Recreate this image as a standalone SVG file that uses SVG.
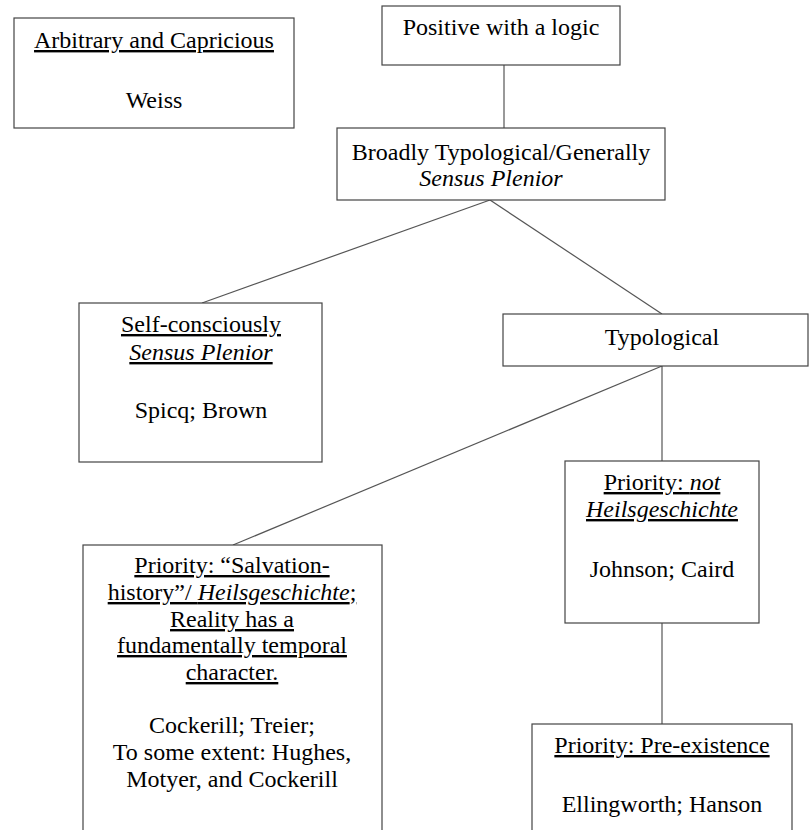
<svg xmlns="http://www.w3.org/2000/svg" width="809" height="830" viewBox="0 0 809 830" font-family="'Liberation Serif', 'Times New Roman', serif">
<style>
.box{fill:#fff;stroke:#444;stroke-width:1.2}
.ln{stroke:#555;stroke-width:1.2;fill:none}
.t{font-family:'Liberation Serif','Times New Roman',serif;font-size:24px;fill:#000;text-anchor:middle}
.u{text-decoration:underline}
.i{font-style:italic}
</style>
<rect width="809" height="830" fill="#fff"/>
<g id="connectors">
<line class="ln" x1="504" y1="65" x2="504" y2="128"/>
<line class="ln" x1="490" y1="200" x2="202" y2="303"/>
<line class="ln" x1="490" y1="200" x2="662" y2="314"/>
<line class="ln" x1="662" y1="366" x2="233" y2="545"/>
<line class="ln" x1="662" y1="366" x2="662" y2="461"/>
<line class="ln" x1="662" y1="623" x2="662" y2="724"/>
</g>
<g id="arbitrary">
<rect class="box" x="14" y="18" width="280" height="110"/>
<text x="154" y="48" class="t u">Arbitrary and Capricious</text>
<text x="154" y="108" class="t">Weiss</text>
</g>
<g id="positive">
<rect class="box" x="382" y="6" width="238" height="59"/>
<text x="501" y="35" class="t">Positive with a logic</text>
</g>
<g id="broadly">
<rect class="box" x="337" y="128" width="328" height="72"/>
<text x="501" y="160" class="t">Broadly Typological/Generally</text>
<text x="491" y="186" class="t i">Sensus Plenior</text>
</g>
<g id="selfconscious">
<rect class="box" x="79" y="303" width="243" height="159"/>
<text x="201" y="332" class="t u">Self-consciously</text>
<text x="201" y="360" class="t u i">Sensus Plenior</text>
<text x="201" y="418" class="t">Spicq; Brown</text>
</g>
<g id="typological">
<rect class="box" x="503" y="314" width="305" height="52"/>
<text x="662" y="345" class="t">Typological</text>
</g>
<g id="salvation">
<rect class="box" x="83" y="545" width="299" height="300"/>
<text x="232" y="573" class="t u">Priority: “Salvation-</text>
<text x="232" y="600" class="t u">history”/ <tspan class="i">Heilsgeschichte</tspan>;</text>
<text x="232" y="627" class="t u">Reality has a</text>
<text x="232" y="653" class="t u">fundamentally temporal</text>
<text x="232" y="680" class="t u">character.</text>
<text x="232" y="733" class="t">Cockerill; Treier;</text>
<text x="232" y="760" class="t">To some extent: Hughes,</text>
<text x="232" y="787" class="t">Motyer, and Cockerill</text>
</g>
<g id="notheils">
<rect class="box" x="565" y="461" width="194" height="162"/>
<text x="662" y="490" class="t u">Priority: <tspan class="i">not</tspan></text>
<text x="662" y="517" class="t u i">Heilsgeschichte</text>
<text x="662" y="577" class="t">Johnson; Caird</text>
</g>
<g id="preexistence">
<rect class="box" x="532" y="724" width="260" height="130"/>
<text x="662" y="753" class="t u">Priority: Pre-existence</text>
<text x="662" y="812" class="t">Ellingworth; Hanson</text>
</g>
</svg>
